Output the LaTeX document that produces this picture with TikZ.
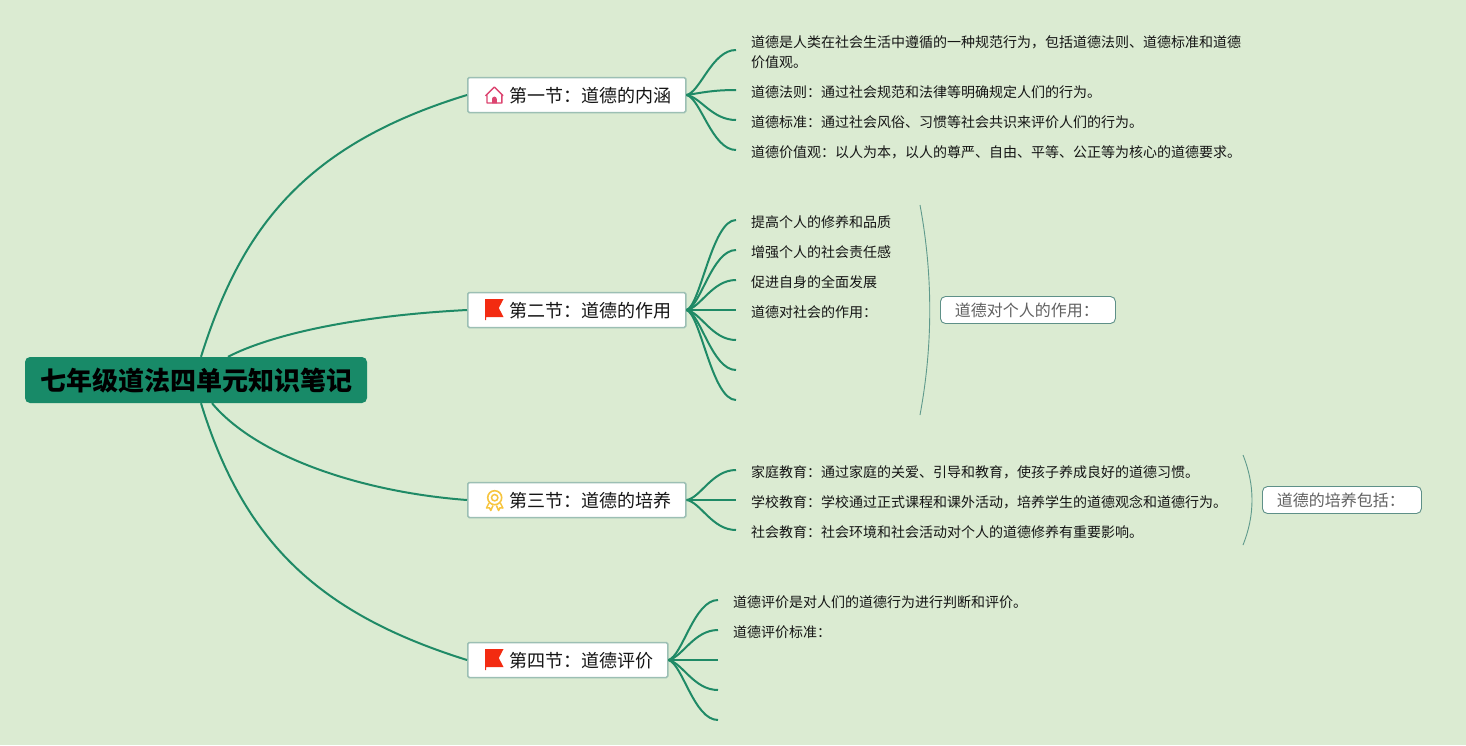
\documentclass[tikz,border=0pt]{standalone}
\usepackage{fontspec}
\setmainfont{Noto Sans CJK SC}
\definecolor{bgc}{HTML}{DBEBD2}
\definecolor{branchc}{HTML}{1F8A66}
\definecolor{rootc}{HTML}{188A68}
\definecolor{topicb}{HTML}{9CBFB4}
\definecolor{sumc}{HTML}{5F9A8C}
\definecolor{sumb}{HTML}{5E9088}
\definecolor{inkc}{HTML}{151515}
\definecolor{flagc}{HTML}{F32B11}
\definecolor{housec}{HTML}{DC4470}
\definecolor{medalc}{HTML}{F7C53F}
\tikzset{
  rootbox/.style={draw=none,fill=rootc,rounded corners=5pt,inner xsep=15pt,inner ysep=0pt,minimum height=46pt,text height=22pt,text depth=0.2pt,font=\fontsize{26}{30}\selectfont\bfseries,text=black},
  topicbox/.style={draw=topicb,line width=1.5pt,fill=white,rounded corners=1.5pt,inner xsep=0pt,inner ysep=0pt,minimum height=35pt,text height=16pt,text depth=0.4pt,anchor=west,font=\fontsize{18}{22}\selectfont,text=inkc,execute at begin node=\hspace*{42pt},execute at end node=\hspace*{14pt}},
  leafbox/.style={anchor=west,inner xsep=0pt,inner ysep=0pt,font=\fontsize{14}{20}\selectfont,text=inkc,align=left,execute at begin node=\hspace*{15pt}},
  sumbox/.style={draw=sumb,line width=0.9pt,fill=white,rounded corners=5pt,inner sep=0pt,anchor=west,minimum height=27pt,font=\fontsize{16}{20}\selectfont,text=black!62},
  mainline/.style={draw=branchc,line width=2pt},
  subline/.style={draw=branchc,line width=2pt},
  sumline/.style={draw=sumc,line width=0.9pt}
}
\begin{document}
\begin{tikzpicture}[x=1pt,y=-1pt]
\useasboundingbox (0,0) rectangle (1466,745);
\fill[bgc] (0,0) rectangle (1466,745);
% root and topics
\node[rootbox] (root) at (196,380) {七年级道法四单元知识笔记};
\node[topicbox] (t1) at (467,95) {第一节：道德的内涵};
\node[topicbox] (t2) at (467,310) {第二节：道德的作用};
\node[topicbox] (t3) at (467,500) {第三节：道德的培养};
\node[topicbox] (t4) at (467,660) {第四节：道德评价};
% root connectors
\draw[mainline] ([xshift=5pt]root.north) .. controls (240,233) and (300,146) .. (t1.west);
\draw[mainline] ([xshift=32pt]root.north) .. controls (268,336) and (350,316) .. (t2.west);
\draw[mainline] ([xshift=16pt]root.south) .. controls (256,456) and (360,492) .. (t3.west);
\draw[mainline] ([xshift=5pt]root.south) .. controls (244,543) and (320,614) .. (t4.west);
% section 1 leaves
\node[leafbox] (a1) at (736,52) {道德是人类在社会生活中遵循的一种规范行为，包括道德法则、道德标准和道德\\价值观。};
\node[leafbox] (a2) at (736,92) {道德法则：通过社会规范和法律等明确规定人们的行为。};
\node[leafbox] (a3) at (736,122) {道德标准：通过社会风俗、习惯等社会共识来评价人们的行为。};
\node[leafbox] (a4) at (736,152) {道德价值观：以人为本，以人的尊严、自由、平等、公正等为核心的道德要求。};
% section 2 leaves
\node[leafbox] (b1) at (736,222) {提高个人的修养和品质};
\node[leafbox] (b2) at (736,252) {增强个人的社会责任感};
\node[leafbox] (b3) at (736,282) {促进自身的全面发展};
\node[leafbox] (b4) at (736,312) {道德对社会的作用：};
\coordinate (b5) at (736,340);
\coordinate (b6) at (736,370);
\coordinate (b7) at (736,400);
% section 3 leaves
\node[leafbox] (c1) at (736,472) {家庭教育：通过家庭的关爱、引导和教育，使孩子养成良好的道德习惯。};
\node[leafbox] (c2) at (736,502) {学校教育：学校通过正式课程和课外活动，培养学生的道德观念和道德行为。};
\node[leafbox] (c3) at (736,532) {社会教育：社会环境和社会活动对个人的道德修养有重要影响。};
% section 4 leaves
\node[leafbox] (d1) at (718,602) {道德评价是对人们的道德行为进行判断和评价。};
\node[leafbox] (d2) at (718,632) {道德评价标准：};
\coordinate (d3) at (718,660);
\coordinate (d4) at (718,690);
\coordinate (d5) at (718,720);
% leaf connectors
\draw[subline] (t1.east) .. controls +(14,-3) and +(-24,0) .. ([yshift=2pt]a1.west);
\draw[subline] (t1.east) .. controls +(14,-2) and +(-24,0) .. ([yshift=2pt]a2.west);
\draw[subline] (t1.east) .. controls +(14,2) and +(-24,0) .. ([yshift=2pt]a3.west);
\draw[subline] (t1.east) .. controls +(14,3) and +(-24,0) .. ([yshift=2pt]a4.west);
\foreach \n/\d in {b1/-4,b2/-3,b3/-2}{
  \draw[subline] (t2.east) .. controls +(14,\d) and +(-24,0) .. ([yshift=2pt]\n.west);
}
\draw[subline] (t2.east) -- ([yshift=2pt]b4.west);
\foreach \n/\d in {b5/2,b6/3,b7/4}{
  \draw[subline] (t2.east) .. controls +(14,\d) and +(-24,0) .. (\n);
}
\draw[subline] (t3.east) .. controls +(14,-2) and +(-24,0) .. ([yshift=2pt]c1.west);
\draw[subline] (t3.east) -- ([yshift=2pt]c2.west);
\draw[subline] (t3.east) .. controls +(14,2) and +(-24,0) .. ([yshift=2pt]c3.west);
\draw[subline] (t4.east) .. controls +(14,-4) and +(-24,0) .. ([yshift=2pt]d1.west);
\draw[subline] (t4.east) .. controls +(14,-3) and +(-24,0) .. ([yshift=2pt]d2.west);
\draw[subline] (t4.east) -- (d3);
\draw[subline] (t4.east) .. controls +(14,3) and +(-24,0) .. (d4);
\draw[subline] (t4.east) .. controls +(14,4) and +(-24,0) .. (d5);
% summaries
\node[sumbox,minimum width=175pt] (s1) at (940,310) {道德对个人的作用：\hspace*{2pt}};
\node[sumbox,minimum width=159pt] (s2) at (1262,500) {道德的培养包括：\hspace*{2pt}};
\coordinate (s1a) at (920,205);
\coordinate (s1b) at (920,415);
\coordinate (s2a) at (1243,455);
\coordinate (s2b) at (1243,545);
\draw[sumline] (s1a) .. controls (933,275) and (933,345) .. (s1b);
\draw[sumline] (s2a) .. controls (1255,485) and (1255,515) .. (s2b);
% house icon
\draw[housec,line width=1.4pt,line join=round] (485.8,95.5) -- (494.3,87) -- (502.8,95.5) -- (501.8,95.5) -- (501.8,103) -- (487,103) -- (487,95.5) -- cycle;
\fill[housec] (492,103.4) -- (492,99) arc (180:0:2.4 and -2.4) -- (496.8,103.4) -- cycle;
% flag icons
\foreach \yy in {310,660}{
  \fill[flagc] (485,\yy-11) -- (503.5,\yy-11) -- (498.8,\yy-2) -- (503.5,\yy+7) -- (486,\yy+7) -- (486,\yy+10) -- (485,\yy+10) -- cycle;
}
% medal icon
\draw[medalc,line width=1.6pt] (494.7,497.7) circle (7);
\draw[medalc,line width=1.5pt] (494.7,497.7) circle (3.2);
\draw[medalc,line width=1.5pt,line join=round] (489,503) -- (486.5,508) -- (489.5,507.8) -- (490.8,510.5) -- (493,505.5);
\draw[medalc,line width=1.5pt,line join=round] (500.4,503) -- (502.9,508) -- (499.9,507.8) -- (498.6,510.5) -- (496.4,505.5);
\end{tikzpicture}
\end{document}
